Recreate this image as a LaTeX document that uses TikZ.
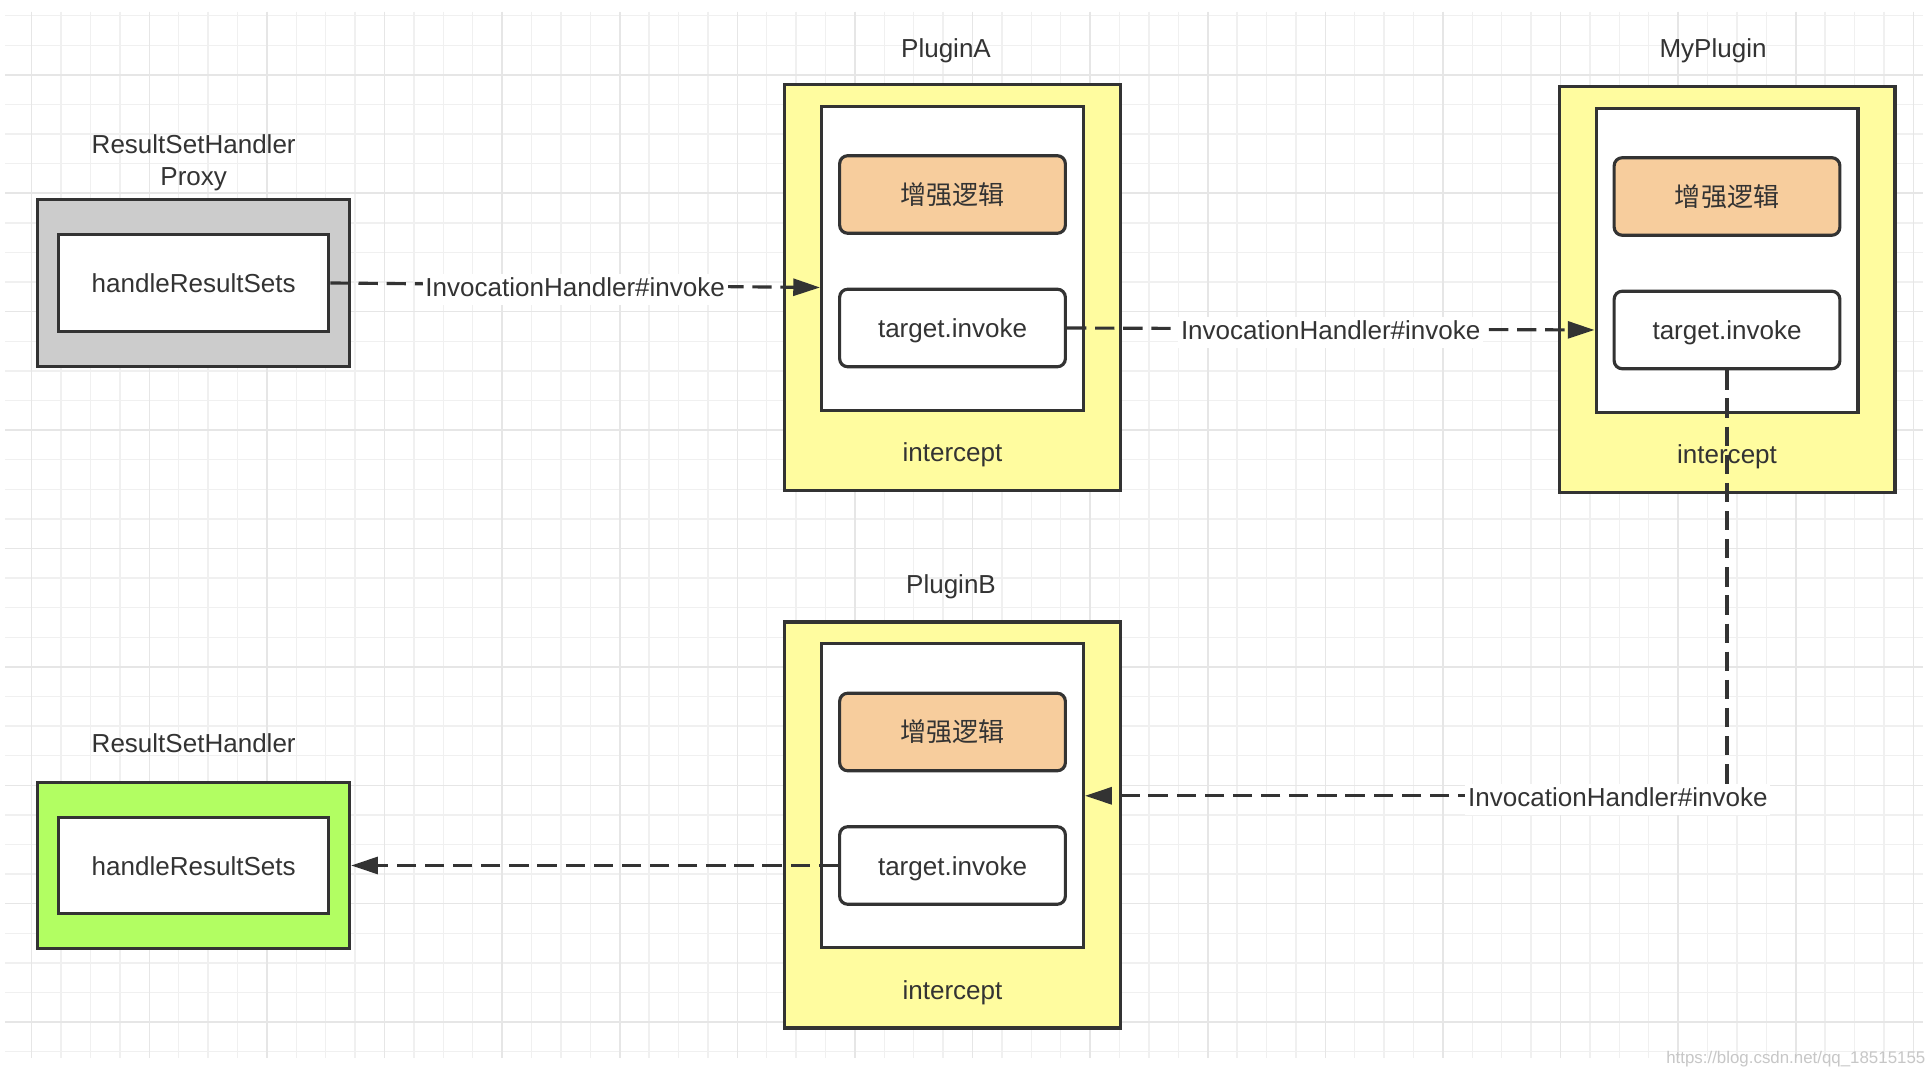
\documentclass[tikz,border=0pt]{standalone}
\usepackage{fontspec}
\setmainfont{Liberation Sans}
\newfontfamily\cjk{Noto Sans CJK SC}
\usepackage{tikz}
\usetikzlibrary{arrows.meta}

\definecolor{linec}{HTML}{333333}
\definecolor{gridminor}{HTML}{F0F0F0}
\definecolor{gridmajor}{HTML}{E6E6E6}
\definecolor{proxyfill}{HTML}{CCCCCC}
\definecolor{plugfill}{HTML}{FFFC9F}
\definecolor{logicfill}{HTML}{F7CD9D}
\definecolor{handlerfill}{HTML}{B2FE62}

\begin{document}
\begin{tikzpicture}[x=0.01cm, y=-0.01cm,
		font=\fontsize{7.4}{9.1}\selectfont, text=linec,
		every node/.style={text height=5.6pt, text depth=0pt},
		gridline/.style={draw=gridminor, line width=0.4pt},
		gridbold/.style={draw=gridmajor, line width=0.45pt},
		box/.style={draw=linec, line width=0.9pt, inner sep=0pt},
		plugbox/.style={box, fill=plugfill, minimum width=3.356cm, minimum height=4.056cm},
		plugin/.style={box, fill=white, minimum width=2.617cm, minimum height=3.04cm},
		part/.style={box, rounded corners=2.3pt, minimum width=2.256cm, minimum height=0.775cm},
		handbox/.style={box, minimum width=3.115cm, minimum height=1.666cm},
		handin/.style={box, fill=white, minimum width=2.7cm, minimum height=0.966cm},
		flow/.style={draw=linec, line width=0.9pt, dash pattern=on 5.5pt off 2.5pt, -{Triangle[length=7.6pt,width=4.8pt]}},
		elabel/.style={fill=white, inner sep=0.8pt, text depth=1.6pt, yshift=-1.1pt}]
		
			\useasboundingbox (0,0) rectangle (1928,1074);
			\fill[white] (0,0) rectangle (1928,1074);
			
			\foreach \k in {0,...,64} \draw[gridline] ({31.7+29.4*\k},12) -- ({31.7+29.4*\k},1058);
			\foreach \k in {0,...,35} \draw[gridline] (5,{15.7+29.6*\k}) -- (1923,{15.7+29.6*\k});
			\foreach \k in {0,4,...,64} \draw[gridbold] ({31.7+29.4*\k},12) -- ({31.7+29.4*\k},1058);
			\foreach \k in {2,6,...,34} \draw[gridbold] (5,{15.7+29.6*\k}) -- (1923,{15.7+29.6*\k});
			
			\node[handbox, fill=proxyfill] (p) at (193.7,283) {};
			\node[handin] (pi) at (193.7,283) {handleResultSets};
			\node[align=center] (pl) at (193.7,176) {ResultSetHandler\\Proxy};
			
			\node[handbox, fill=handlerfill] (h) at (193.7,865.5) {};
			\node[handin] (hi) at (193.7,865.5) {handleResultSets};
			\node (hl) at (193.7,743) {ResultSetHandler};
			
			\node[plugbox] (a) at (952.5,287.5) {};
			\node[plugin] (ai) at (952.5,258.3) {};
			\node[part, fill=logicfill] (ae) at (952.5,194.5) {\cjk 增强逻辑};
			\node[part, fill=white] (at) at (952.5,328) {target.invoke};
			\node (ax) at (952.5,452) {intercept};
			\node (al) at (946,48) {PluginA};
			
			\node[plugbox] (m) at (1727,289.5) {};
			\node[plugin] (mi) at (1727,260.3) {};
			\node[part, fill=logicfill] (me) at (1727,196.5) {\cjk 增强逻辑};
			\node[part, fill=white] (mt) at (1727,330) {target.invoke};
			\node (mx) at (1727,454) {intercept};
			\node (ml) at (1713,48) {MyPlugin};
			
			\node[plugbox] (b) at (952.5,825) {};
			\node[plugin] (bi) at (952.5,795.8) {};
			\node[part, fill=logicfill] (be) at (952.5,732) {\cjk 增强逻辑};
			\node[part, fill=white] (bt) at (952.5,865.5) {target.invoke};
			\node (bx) at (952.5,989.5) {intercept};
			\node (bl) at (951,584) {PluginB};
			
			\node[anchor=east, inner sep=0pt, text=black!22, font=\fontsize{4.8}{5}\selectfont] (w) at (1926,1054) {https://blog.csdn.net/qq\_18515155};
			
			\draw[flow] (pi.east) -- node[elabel] {InvocationHandler\#invoke} (a.center -| ai.west);
			\draw[flow] (at.east) -- node[elabel] {InvocationHandler\#invoke} (mt.center -| mi.west);
			\draw[flow] (mt.south) |- node[elabel, pos=0.585] {InvocationHandler\#invoke} (bi.east);
			\draw[flow] (bt.west) -- (h.east);
			
		\end{tikzpicture}
\end{document}
